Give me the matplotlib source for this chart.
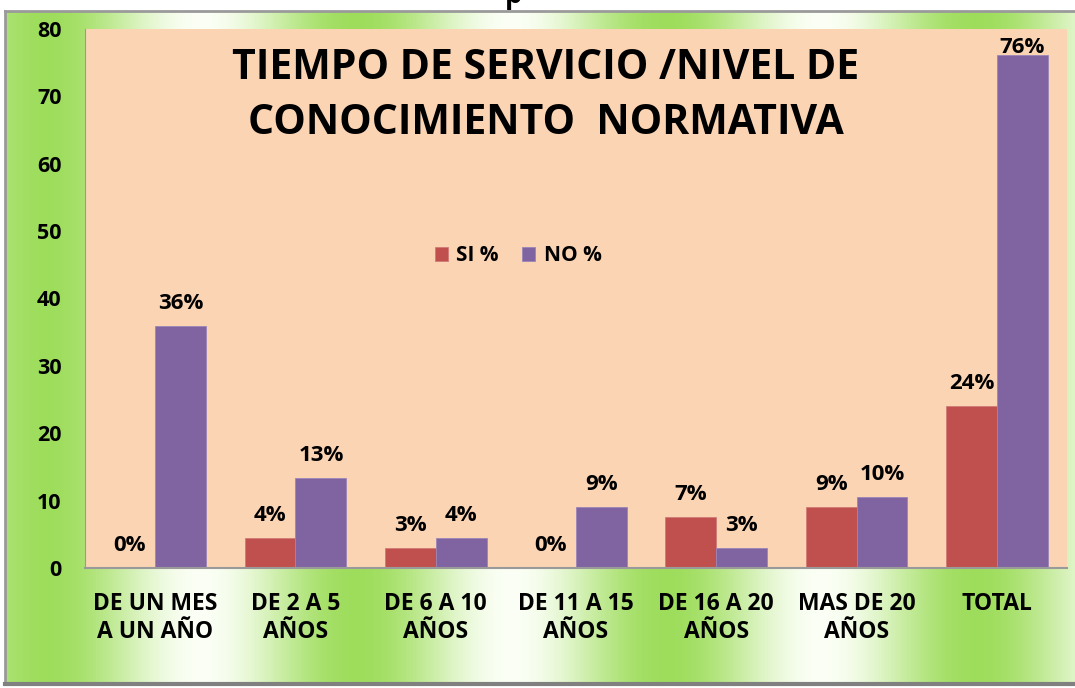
import matplotlib.pyplot as plt
import numpy as np
from matplotlib.colors import to_rgb

# data
categories = ['DE UN MES\nA UN AÑO', 'DE 2 A 5\nAÑOS', 'DE 6 A 10\nAÑOS', 'DE 11 A 15\nAÑOS',
              'DE 16 A 20\nAÑOS', 'MAS DE 20\nAÑOS', 'TOTAL']
si_values = [0, 4.4, 2.9, 0, 7.5, 9.0, 24.0]
no_values = [35.9, 13.4, 4.4, 9.0, 2.9, 10.5, 76.2]
si_labels = ['0%', '4%', '3%', '0%', '7%', '9%', '24%']
no_labels = ['36%', '13%', '4%', '9%', '3%', '10%', '76%']
y_ticks = [0, 10, 20, 30, 40, 50, 60, 70, 80]

plt.rcParams['font.family'] = ['Open Sans', 'DejaVu Sans']
plt.rcParams['font.weight'] = 'bold'

W, H = 1075, 688
fig = plt.figure(figsize=(W / 100, H / 100), dpi=100)
fig.patch.set_facecolor('white')

# green striped frame behind the chart
bg = fig.add_axes([5 / W, 4 / H, 1 - 5 / W, 1 - 15 / H])
xs = np.linspace(0, W, 600)
mix = 0.5 + 0.5 * np.cos(2 * np.pi * (xs - 41) / 312)
green = np.array(to_rgb('#9edd5c'))
white = np.array(to_rgb('#fbfff5'))
row = white[None, :] * (1 - mix[:, None]) + green[None, :] * mix[:, None]
bg.imshow(row[None, :, :], aspect='auto', extent=[0, 1, 0, 1])
bg.set_xticks([])
bg.set_yticks([])
for side in ['top', 'left']:
    bg.spines[side].set_color('#9a9a9a')
    bg.spines[side].set_linewidth(2)
bg.spines['bottom'].set_color('#808080')
bg.spines['bottom'].set_linewidth(3)
bg.spines['right'].set_visible(False)

fig.text(514 / W, 1 - 3 / H, 'p', fontsize=20, ha='center', va='baseline')

ax_top, ax_bot = 29, 568
ax = fig.add_axes([85 / W, 1 - ax_bot / H, (1067 - 85) / W, (ax_bot - ax_top) / H])
ax.set_facecolor('#fbd4b4')

x = np.arange(len(categories))
w = 0.363
b1 = ax.bar(x - w / 2, si_values, w, color='#c0504d', edgecolor='#d07a77', linewidth=0.6, label='SI %')
b2 = ax.bar(x + w / 2, no_values, w, color='#8064a2', edgecolor='#9a85b8', linewidth=0.6, label='NO %')

# labels sit above the bars, pushed down when they would leave the plot area
px_per_unit = (ax_bot - ax_top) / 80
for bars, labels in [(b1, si_labels), (b2, no_labels)]:
    for bar, lab in zip(bars, labels):
        h = bar.get_height()
        room = (80 - h) * px_per_unit - 8 - 16
        off_px = min(17, room)
        ax.annotate(lab, (bar.get_x() + bar.get_width() / 2, h),
                    xytext=(0, off_px * 0.72), textcoords='offset points', ha='center', va='baseline',
                    fontsize=16, fontweight='bold', annotation_clip=False)

ax.set_xlim(-0.5, len(categories) - 0.5)
ax.set_ylim(0, 80)
ax.set_yticks(y_ticks)
ax.set_xticks(x)
ax.set_xticklabels(categories, fontsize=16.5, fontweight='bold', linespacing=1.22)
ax.tick_params(axis='y', length=0, pad=17, labelsize=15.5)
ax.tick_params(axis='x', length=0, pad=17)

for side in ['top', 'right']:
    ax.spines[side].set_visible(False)
ax.spines['left'].set_color('#9a9a9a')
ax.spines['bottom'].set_color('#9a9a9a')
ax.spines['bottom'].set_linewidth(1.5)

ax.text(0.469, 0.876, 'TIEMPO DE SERVICIO /NIVEL DE\nCONOCIMIENTO  NORMATIVA', transform=ax.transAxes,
        ha='center', va='center', fontsize=29.5, fontweight='bold', linespacing=1.45)

ax.legend(loc='center', bbox_to_anchor=(0.441, 0.579), ncol=2, frameon=False, fontsize=15,
          handlelength=0.65, handleheight=0.65, handletextpad=0.4, columnspacing=1.1)

plt.savefig('out.png', dpi=100)
